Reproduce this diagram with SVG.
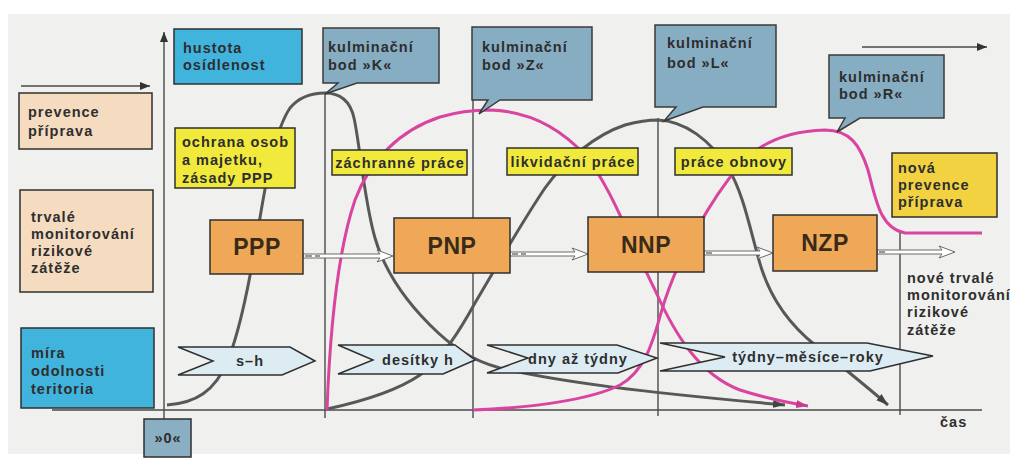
<svg xmlns="http://www.w3.org/2000/svg" width="1010" height="459" viewBox="0 0 1010 459">
<defs>
<style>
.t{font-family:"Liberation Sans",Arial,sans-serif;font-weight:bold;font-size:14.5px;fill:#2e2e2e;letter-spacing:1px}
.tc{text-anchor:middle}
.big{font-size:23px;letter-spacing:0.5px;fill:#3a2a18}
.box{stroke:#2f2f2f;stroke-width:1.5}
.cyan{fill:#41b4de}
.peach{fill:#f5dcc0}
.yel{fill:#f1ea3c}
.gold{fill:#f2d241}
.org{fill:#eea857}
.call{fill:#87adc3;stroke:#3a3a3a;stroke-width:1.5}
.chev{fill:#dcecf2;stroke:#2f2f2f;stroke-width:1.5}
.div{stroke:#4a4a4a;stroke-width:1.4;fill:none}
.gc{fill:none;stroke:#585858;stroke-width:3}
.pc{fill:none;stroke:#d8449f;stroke-width:3}
.hol{fill:#ffffff;stroke:#6a6a6a;stroke-width:1}
</style>
<marker id="ag" markerUnits="userSpaceOnUse" markerWidth="14" markerHeight="10" refX="12" refY="4" orient="auto"><path d="M0,0 L12,4 L0,8 Z" fill="#444"/></marker>
<marker id="ap" markerUnits="userSpaceOnUse" markerWidth="14" markerHeight="10" refX="12" refY="4" orient="auto"><path d="M0,0 L12,4 L0,8 Z" fill="#c93a90"/></marker>
<marker id="ak" markerUnits="userSpaceOnUse" markerWidth="12" markerHeight="10" refX="10" refY="4" orient="auto"><path d="M0,0 L10,4 L0,8 Z" fill="#333"/></marker>
</defs>
<rect x="0" y="0" width="1010" height="459" fill="#ffffff"/>
<rect x="8" y="14" width="1002" height="440" fill="#f0f0ee"/>

<g id="axes">
<line x1="164" y1="420" x2="164" y2="32" class="div" marker-end="url(#ak)"/>
<line x1="52" y1="410" x2="982" y2="410" class="div"/>
<line x1="325" y1="93" x2="325" y2="418" class="div"/>
<line x1="473" y1="100" x2="473" y2="418" class="div"/>
<line x1="658" y1="118" x2="658" y2="416" class="div"/>
<line x1="900" y1="233" x2="900" y2="415" class="div"/>
<line x1="21" y1="86" x2="150" y2="86" class="div" marker-end="url(#ak)"/>
<line x1="862" y1="47" x2="987" y2="47" class="div" marker-end="url(#ak)"/>
</g>

<g id="curves">
<path class="gc" d="M167,405 C195,403 215,392 228,360 C240,330 250,280 258,230 C266,180 275,130 290,108 C300,96 312,93 325,93 C340,93 350,100 354,118 C360,145 364,200 375,238 C385,272 405,300 430,325 C450,345 470,360 500,368 C560,382 640,392 785,405" marker-end="url(#ag)"/>
<path class="gc" d="M327,409 C355,403 395,392 420,375 C445,355 460,330 475,303 C490,278 520,225 545,188 C565,160 595,135 625,125 C640,121 650,120 658,120 C685,121 710,140 728,168 C745,195 752,240 762,270 C772,300 790,325 815,345 C840,365 865,385 888,405" marker-end="url(#ag)"/>
<path class="pc" d="M327,410 C330,330 338,250 355,200 C370,160 400,130 440,117 C460,111 475,110 490,110 C530,111 560,128 585,155 C610,185 630,240 655,290 C675,335 700,375 740,390 C765,398 790,403 808,406" marker-end="url(#ap)"/>
<path class="pc" d="M473,410 C530,408 590,400 620,385 C650,368 655,330 665,300 C680,255 710,200 740,165 C760,142 790,131 825,130 C850,130 860,145 868,170 C876,200 880,228 905,233 L982,233"/>
</g>

<g id="connectors">
<path class="hol" d="M303,254 H380 L377,250 L393,256 L377,262 L380,258 H303 Z"/>
<path class="hol" d="M510,252 H575 L572,248 L588,254 L572,260 L575,256 H510 Z"/>
<path class="hol" d="M704,251 H760 L757,247 L773,253 L757,259 L760,255 H704 Z"/>
<path class="hol" d="M877,250 H942 L939,246 L955,252 L939,258 L942,254 H877 Z"/>
<path d="M305,256 H312 M315,256 H320 M512,254 H518 M521,254 H526 M706,253 H712 M879,252 H885" stroke="#777" stroke-width="1.5"/>
</g>

<g id="n-hustota"><rect class="box cyan" x="174" y="29" width="128" height="55"/><text class="t" x="183" y="53">hustota</text><text class="t" x="183" y="70">osídlenost</text></g>
<g id="n-prevence"><rect class="box peach" x="19" y="93" width="133" height="56"/><text class="t" x="28" y="117">prevence</text><text class="t" x="28" y="136">příprava</text></g>
<g id="n-trvale"><rect class="box peach" x="20" y="190" width="133" height="102"/><text class="t" x="31" y="222">trvalé</text><text class="t" x="31" y="239">monitorování</text><text class="t" x="31" y="256">rizikové</text><text class="t" x="31" y="273">zátěže</text></g>
<g id="n-mira"><rect class="box cyan" x="21" y="328" width="133" height="80"/><text class="t" x="31" y="358">míra</text><text class="t" x="31" y="376">odolnosti</text><text class="t" x="31" y="394">teritoria</text></g>
<g id="n-ochrana"><rect class="box yel" x="175" y="128" width="120" height="60"/><text class="t" x="182" y="147">ochrana osob</text><text class="t" x="182" y="165">a majetku,</text><text class="t" x="182" y="183">zásady PPP</text></g>

<g id="n-K"><path class="call" d="M323,28 H439 V83 H357 L325,94 L338,83 H323 Z"/><text class="t" x="328" y="52">kulminační</text><text class="t" x="328" y="70">bod »K«</text></g>
<g id="n-Z"><path class="call" d="M472,27 H592 V100 H500 L479,114 L488,100 H472 Z"/><text class="t" x="482" y="52">kulminační</text><text class="t" x="482" y="70">bod »Z«</text></g>
<g id="n-L"><path class="call" d="M655,25 H776 V107 H703 L664,121 L676,107 H655 Z"/><text class="t" x="667" y="48">kulminační</text><text class="t" x="667" y="68">bod »L«</text></g>
<g id="n-R"><path class="call" d="M829,55 H944 V118 H860 L837,132 L845,118 H829 Z"/><text class="t" x="839" y="82">kulminační</text><text class="t" x="839" y="99">bod »R«</text></g>

<g id="n-zachranne"><rect class="box yel" x="332" y="150" width="135" height="25"/><text class="t tc" x="400" y="168">záchranné práce</text></g>
<g id="n-likvidacni"><rect class="box yel" x="507" y="148" width="131" height="27"/><text class="t tc" x="573" y="167">likvidační práce</text></g>
<g id="n-obnovy"><rect class="box yel" x="675" y="148" width="117" height="27"/><text class="t tc" x="734" y="167">práce obnovy</text></g>
<g id="n-nova"><rect class="box gold" x="892" y="153" width="105" height="64"/><text class="t" x="898" y="173">nová</text><text class="t" x="898" y="190">prevence</text><text class="t" x="898" y="207">příprava</text></g>

<g id="n-PPP"><rect class="box org" x="210" y="220" width="93" height="54"/><text class="t tc big" x="257" y="255">PPP</text></g>
<g id="n-PNP"><rect class="box org" x="394" y="218" width="116" height="55"/><text class="t tc big" x="452" y="254">PNP</text></g>
<g id="n-NNP"><rect class="box org" x="588" y="217" width="116" height="55"/><text class="t tc big" x="646" y="253">NNP</text></g>
<g id="n-NZP"><rect class="box org" x="773" y="215" width="104" height="56"/><text class="t tc big" x="825" y="251">NZP</text></g>

<g id="n-sh"><polygon class="chev" points="178,347 290,347 315,361 282,375 178,375 213,361"/><text class="t tc" x="250" y="366">s–h</text></g>
<g id="n-desitky"><polygon class="chev" points="338,345 455,345 475,360 443,374 338,374 373,360"/><text class="t tc" x="418" y="365">desítky h</text></g>
<g id="n-dny"><polygon class="chev" points="487,345 617,345 657,358 618,373 487,373 528,358"/><text class="t tc" x="578" y="364">dny až týdny</text></g>
<g id="n-tydny"><polygon class="chev" points="660,343 867,343 933,356 870,371 660,371 725,357"/><text class="t tc" x="808" y="362">týdny–měsíce–roky</text></g>

<g id="n-nove"><text class="t" x="907" y="283">nové trvalé</text><text class="t" x="907" y="300">monitorování</text><text class="t" x="907" y="317">rizikové</text><text class="t" x="907" y="335">zátěže</text></g>
<g id="n-cas"><text class="t" x="940" y="427">čas</text></g>
<g id="n-0"><rect class="box" fill="#8aaec2" x="144" y="419" width="47" height="38"/><text class="t tc" x="168" y="443">»0«</text></g>
</svg>
